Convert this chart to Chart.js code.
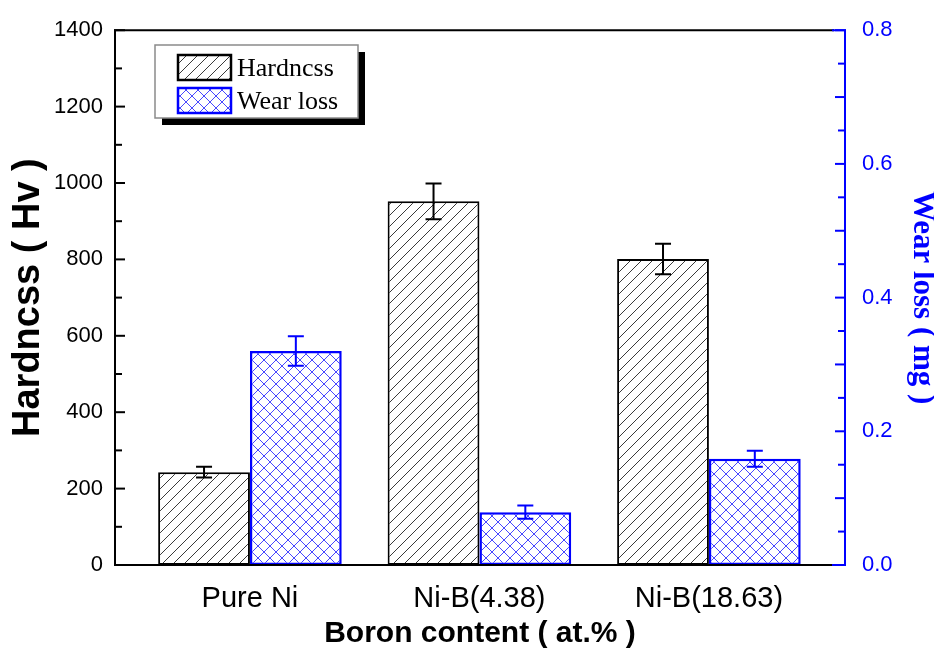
<!DOCTYPE html>
<html>
<head>
<meta charset="utf-8">
<script src="https://cdn.jsdelivr.net/npm/chart.js@4.4.1/dist/chart.umd.min.js"></script>
<style>
  html, body { margin: 0; padding: 0; background: #fff; }
  #wrap { width: 934px; height: 650px; }
</style>
</head>
<body>
<div id="wrap"><canvas id="myChart"></canvas></div>
<script>
const categories = ["Pure Ni", "Ni-B(4.38)", "Ni-B(18.63)"];
const hardness = [243, 952, 801];
const hardnessErr = [14, 47, 40];
const wearLoss = [0.320, 0.079, 0.159];
const wearLossErr = [0.022, 0.010, 0.012];
const hardnessTicks = [0, 200, 400, 600, 800, 1000, 1200, 1400];
const wearTicks = [0.0, 0.2, 0.4, 0.6, 0.8];

const BLUE = "#0000ff";
const SANS = "'Liberation Sans', Arial, sans-serif";
const SERIF = "'Liberation Serif', 'Times New Roman', serif";

// diagonal "/" hatch for the hardness bars
function hatchPattern() {
  const s = 11;
  const c = document.createElement("canvas");
  c.width = s; c.height = s;
  const g = c.getContext("2d");
  g.fillStyle = "#fff";
  g.fillRect(0, 0, s, s);
  g.strokeStyle = "#3a3a3a";
  g.lineWidth = 1;
  g.beginPath();
  g.moveTo(0, s); g.lineTo(s, 0);
  g.moveTo(-2, 2); g.lineTo(2, -2);
  g.moveTo(s - 2, s + 2); g.lineTo(s + 2, s - 2);
  g.stroke();
  return g.createPattern(c, "repeat");
}

// blue cross hatch for the wear loss bars
function crossPattern() {
  const s = 12;
  const c = document.createElement("canvas");
  c.width = s; c.height = s;
  const g = c.getContext("2d");
  g.fillStyle = "#fff";
  g.fillRect(0, 0, s, s);
  g.strokeStyle = "rgba(40,40,255,0.85)";
  g.lineWidth = 1;
  g.beginPath();
  g.moveTo(0, 0); g.lineTo(s, s);
  g.moveTo(0, s); g.lineTo(s, 0);
  g.stroke();
  return g.createPattern(c, "repeat");
}

const hatch = hatchPattern();
const cross = crossPattern();

// frame and inward tick marks
const framePlugin = {
  id: "frame",
  afterDatasetsDraw(chart) {
    const { ctx, chartArea: a } = chart;
    const yl = chart.scales.y, yr = chart.scales.y1;
    ctx.save();
    ctx.lineCap = "square";
    ctx.lineWidth = 2;
    ctx.strokeStyle = "#000";
    ctx.beginPath();
    ctx.moveTo(a.right - 12, a.top); ctx.lineTo(a.left, a.top);
    ctx.lineTo(a.left, a.bottom); ctx.lineTo(a.right - 12, a.bottom);
    ctx.stroke();
    for (let v = 0; v <= 1400; v += 100) {
      const y = yl.getPixelForValue(v);
      const len = v % 200 === 0 ? 9 : 6;
      ctx.beginPath();
      ctx.moveTo(a.left, y); ctx.lineTo(a.left + len, y);
      ctx.stroke();
    }
    ctx.strokeStyle = BLUE;
    ctx.beginPath();
    ctx.moveTo(a.right - 12, a.top); ctx.lineTo(a.right, a.top);
    ctx.lineTo(a.right, a.bottom); ctx.lineTo(a.right - 12, a.bottom);
    ctx.stroke();
    for (let i = 0; i <= 16; i++) {
      const y = yr.getPixelForValue(i * 0.05);
      const len = i % 2 === 0 ? 9 : 6;
      ctx.beginPath();
      ctx.moveTo(a.right, y); ctx.lineTo(a.right - len, y);
      ctx.stroke();
    }
    ctx.restore();
  },
};

// error bars from the *Err arrays
const errorBarPlugin = {
  id: "errorBars",
  afterDatasetsDraw(chart) {
    const ctx = chart.ctx;
    chart.data.datasets.forEach((ds, i) => {
      const meta = chart.getDatasetMeta(i);
      const scale = chart.scales[ds.yAxisID];
      ctx.save();
      ctx.strokeStyle = ds.borderColor;
      ctx.lineWidth = 2;
      meta.data.forEach((bar, j) => {
        const v = ds.data[j].y;
        const e = ds.errors[j];
        const yTop = scale.getPixelForValue(v + e);
        const yBot = scale.getPixelForValue(v - e);
        const x = bar.x;
        ctx.beginPath();
        ctx.moveTo(x, yTop); ctx.lineTo(x, yBot);
        ctx.moveTo(x - 8, yTop); ctx.lineTo(x + 8, yTop);
        ctx.moveTo(x - 8, yBot); ctx.lineTo(x + 8, yBot);
        ctx.stroke();
      });
      ctx.restore();
    });
  },
};

// boxed legend with a drop shadow
const legendPlugin = {
  id: "boxLegend",
  afterDraw(chart) {
    const ctx = chart.ctx;
    const bx = 155, by = 45, bw = 203, bh = 73;
    ctx.save();
    ctx.fillStyle = "#000";
    ctx.fillRect(bx + 7, by + 7, bw, bh);
    ctx.fillStyle = "#fff";
    ctx.fillRect(bx, by, bw, bh);
    ctx.strokeStyle = "#8a8a8a";
    ctx.lineWidth = 1.5;
    ctx.strokeRect(bx, by, bw, bh);
    ctx.font = "26px " + SERIF;
    ctx.textBaseline = "middle";
    chart.data.datasets.forEach((ds, i) => {
      const sy = by + 10 + i * 33;
      ctx.fillStyle = ds.backgroundColor;
      ctx.fillRect(178, sy, 53, 25);
      ctx.strokeStyle = ds.borderColor;
      ctx.lineWidth = 2.5;
      ctx.strokeRect(178, sy, 53, 25);
      ctx.fillStyle = "#000";
      ctx.fillText(ds.label, 237, sy + 14);
    });
    ctx.restore();
  },
};

const toPoints = vals => vals.map((v, i) => ({ x: i, y: v }));

new Chart(document.getElementById("myChart"), {
  type: "bar",
  data: {
    datasets: [
      {
        label: "Hardncss",
        data: toPoints(hardness),
        errors: hardnessErr,
        yAxisID: "y",
        backgroundColor: hatch,
        borderColor: "#000",
        borderWidth: 2,
        borderSkipped: false,
      },
      {
        label: "Wear loss",
        data: toPoints(wearLoss),
        errors: wearLossErr,
        yAxisID: "y1",
        backgroundColor: cross,
        borderColor: BLUE,
        borderWidth: 2.5,
        borderSkipped: false,
      },
    ],
  },
  options: {
    responsive: true,
    maintainAspectRatio: false,
    animation: false,
    events: [],
    layout: { autoPadding: false, padding: { top: 28 } },
    datasets: { bar: { categoryPercentage: 0.8, barPercentage: 1.0 } },
    plugins: { legend: { display: false }, tooltip: { enabled: false } },
    scales: {
      x: {
        type: "linear",
        offset: false,
        min: -0.588,
        max: 2.593,
        afterBuildTicks: s => { s.ticks = categories.map((_, i) => ({ value: i })); },
        afterFit: s => { s.height = 85; },
        ticks: {
          callback: v => categories[v],
          color: "#000",
          font: { family: SANS, size: 29 },
          padding: 17,
          maxRotation: 0,
          autoSkip: false,
        },
        grid: { display: false, drawTicks: false },
        border: { display: false },
        title: {
          display: true,
          text: "Boron content ( at.% )",
          color: "#000",
          font: { family: SANS, size: 30, weight: "bold", lineHeight: 1.1 },
          padding: { top: 0, bottom: 0 },
        },
      },
      y: {
        position: "left",
        min: 0,
        max: 1400,
        afterBuildTicks: s => { s.ticks = hardnessTicks.map(v => ({ value: v })); },
        afterFit: s => { s.width = 115; },
        ticks: {
          callback: v => String(v),
          color: "#000",
          font: { family: SANS, size: 22 },
          padding: 12,
        },
        grid: { display: false, drawTicks: false },
        border: { display: false },
        title: {
          display: true,
          text: "Hardncss ( Hv )",
          color: "#000",
          font: { family: SANS, size: 38, weight: "bold" },
          padding: { top: 6, bottom: 0 },
        },
      },
      y1: {
        position: "right",
        min: 0,
        max: 0.8,
        afterBuildTicks: s => { s.ticks = wearTicks.map(v => ({ value: v })); },
        afterFit: s => { s.width = 89; },
        ticks: {
          callback: v => v.toFixed(1),
          color: BLUE,
          font: { family: SANS, size: 22 },
          padding: 17,
        },
        grid: { display: false, drawTicks: false },
        border: { display: false },
        title: {
          display: true,
          text: "Wear loss ( mg )",
          color: BLUE,
          font: { family: SERIF, size: 31, weight: "bold", lineHeight: 0.8 },
          padding: { top: 0, bottom: 0 },
        },
      },
    },
  },
  plugins: [framePlugin, errorBarPlugin, legendPlugin],
});
</script>
</body>
</html>
